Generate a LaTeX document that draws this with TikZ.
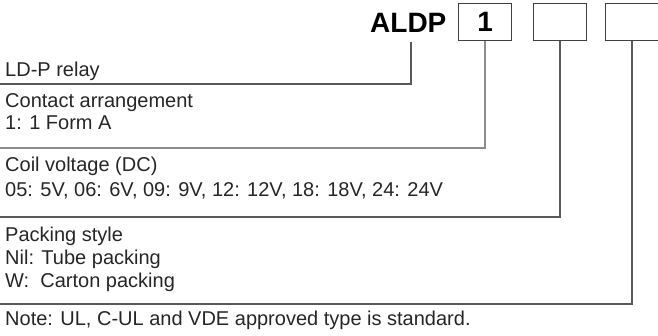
\documentclass[tikz,border=0pt]{standalone}
\usepackage{fontspec}
\setmainfont{Liberation Sans}
\begin{document}
\begin{tikzpicture}[x=1pt,y=-1pt,
  lbl/.style={anchor=base west,inner sep=0pt,font=\fontsize{20}{22}\selectfont,text=black!85},
  code/.style={draw=black!75,line width=1.2pt,minimum width=53pt,minimum height=37pt,inner sep=0pt,anchor=north west,font=\fontsize{28}{30}\bfseries\selectfont},
  lead/.style={draw=black!65,line width=1.3pt}]
\useasboundingbox (0,0) rectangle (658,336);
\node[anchor=base west,inner sep=0pt,font=\fontsize{28}{30}\bfseries\selectfont] (aldp) at (370,33) {ALDP};
\node[code] (b1) at (458,3) {1};
\node[code] (b2) at (533,3) {};
\node[code] (b3) at (605,3) {};
\node[lbl] (t1) at (5,77) {LD-P relay};
\node[lbl] (t2) at (5,108) {Contact arrangement};
\node[lbl] (t2b) at (5,130) {1: 1 Form A};
\node[lbl] (t3) at (5,172) {Coil voltage (DC)};
\node[lbl] (t3b) at (5,197) {05: 5V, 06: 6V, 09: 9V, 12: 12V, 18: 18V, 24: 24V};
\node[lbl] (t4) at (5,242) {Packing style};
\node[lbl] (t4b) at (5,265) {Nil: Tube packing};
\node[lbl] (t4c) at (5,288) {W:\ \ Carton packing};
\node[lbl] (note) at (5,326) {Note: UL, C-UL and VDE approved type is standard.};
\coordinate (e1) at (0,84);
\coordinate (e2) at (0,148);
\coordinate (e3) at (0,217);
\coordinate (e4) at (0,304);
\draw[lead] (411,42) |- (e1);
\draw[lead,draw=black!45,line width=1.8pt] (b1.south) |- (e2);
\draw[lead] (b2.south) |- (e3);
\draw[lead] (b3.south) |- (e4);
\end{tikzpicture}
\end{document}
